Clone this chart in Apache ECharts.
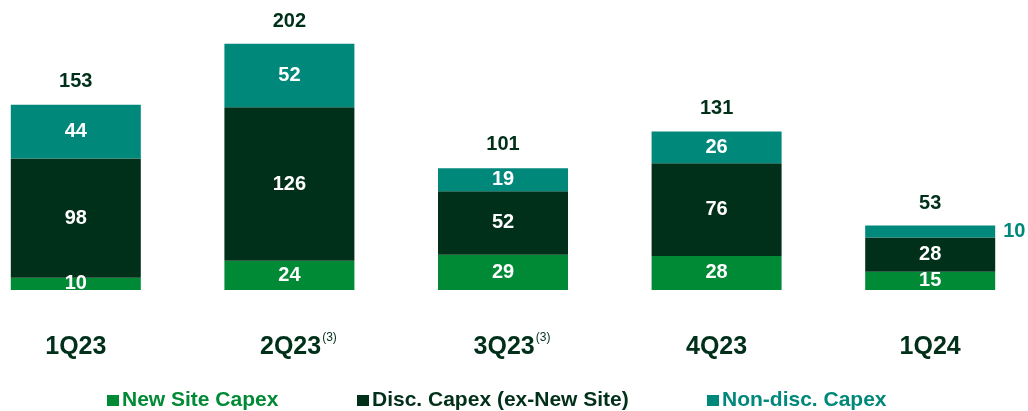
<!DOCTYPE html>
<html>
<head>
<meta charset="utf-8">
<script src="https://cdn.jsdelivr.net/npm/echarts@6/dist/echarts.min.js"></script>
<style>
    html, body { margin: 0; padding: 0; background: #fff; }
    #chart { width: 1028px; height: 411px; }
</style>
</head>
<body>
<div id="chart"></div>
<script>
const categories = ["1Q23", "2Q23", "3Q23", "4Q23", "1Q24"]
const notes = ["", "(3)", "(3)", "", ""]
const newSite = [10, 24, 29, 28, 15]
const discCapex = [98, 126, 52, 76, 28]
const nonDisc = [44, 52, 19, 26, 10]
const totals = [153, 202, 101, 131, 53]
const seriesNames = ["New Site Capex", "Disc. Capex (ex-New Site)", "Non-disc. Capex"]

const GREEN = "#008a36"
const DARK = "#01301a"
const TEAL = "#00887a"
const FONT = "Liberation Sans, Arial, sans-serif"
const colors = [GREEN, DARK, TEAL]
const legendLeft = [107, 357, 707]

const chart = echarts.init(document.getElementById("chart"))

const insideLabel = {
    show: true,
    position: "inside",
    color: "#fff",
    fontFamily: FONT,
    fontWeight: "bold",
    fontSize: 20,
}

// one legend per item so each sits where the original puts it
const legends = seriesNames.map(function (name, i) {
    return {
        data: [name],
        left: legendLeft[i],
        top: 390,
        padding: 0,
        itemWidth: 12,
        itemHeight: 11,
        icon: "rect",
        textStyle: {
            color: colors[i],
            fontFamily: FONT,
            fontWeight: "bold",
            fontSize: 21,
            padding: [0, 0, 0, -2],
        },
    }
})

const option = {
    animation: false,
    grid: {
        left: -31,
        right: -9,
        top: 0,
        bottom: 121,
        outerBoundsMode: "none",
    },
    legend: legends,
    xAxis: {
        type: "category",
        data: categories,
        axisLine: { show: false },
        axisTick: { show: false },
        axisLabel: {
            interval: 0,
            margin: 42,
            color: DARK,
            fontFamily: FONT,
            fontWeight: "bold",
            fontSize: 25,
            lineHeight: 30,
            formatter: function (value, i) {
                if (notes[i]) {
                    return "{p|}" + value + "{sup|" + notes[i] + "}"
                }
                return value
            },
            rich: {
                p: { width: 18 },
                sup: {
                    fontFamily: FONT,
                    fontSize: 12,
                    lineHeight: 12,
                    fontWeight: "normal",
                    color: DARK,
                    verticalAlign: "top",
                    padding: [0, 0, 0, 1],
                },
            },
        },
    },
    yAxis: {
        type: "value",
        min: 0,
        max: 238,
        show: false,
        splitLine: { show: false },
    },
    series: [
        {
            name: seriesNames[0],
            type: "bar",
            stack: "capex",
            barWidth: 130,
            data: newSite,
            itemStyle: { color: GREEN },
            label: insideLabel,
        },
        {
            name: seriesNames[1],
            type: "bar",
            stack: "capex",
            barWidth: 130,
            data: discCapex,
            itemStyle: { color: DARK },
            label: insideLabel,
        },
        {
            name: seriesNames[2],
            type: "bar",
            stack: "capex",
            barWidth: 130,
            data: nonDisc.map(function (v, i) {
                if (i === nonDisc.length - 1) {
                    return {
                        value: v,
                        label: {
                            position: "right",
                            distance: 8,
                            color: TEAL,
                        },
                    }
                }
                return v
            }),
            itemStyle: { color: TEAL },
            label: insideLabel,
        },
        {
            // invisible bar just to carry the total above each stack
            name: "Total",
            type: "bar",
            barWidth: 130,
            barGap: "-100%",
            z: 1,
            data: totals,
            itemStyle: { color: "rgba(0,0,0,0)" },
            emphasis: { disabled: true },
            label: {
                show: true,
                position: "top",
                distance: 12,
                color: DARK,
                fontFamily: FONT,
                fontWeight: "bold",
                fontSize: 20,
            },
        },
    ],
}

chart.setOption(option)
</script>
</body>
</html>
